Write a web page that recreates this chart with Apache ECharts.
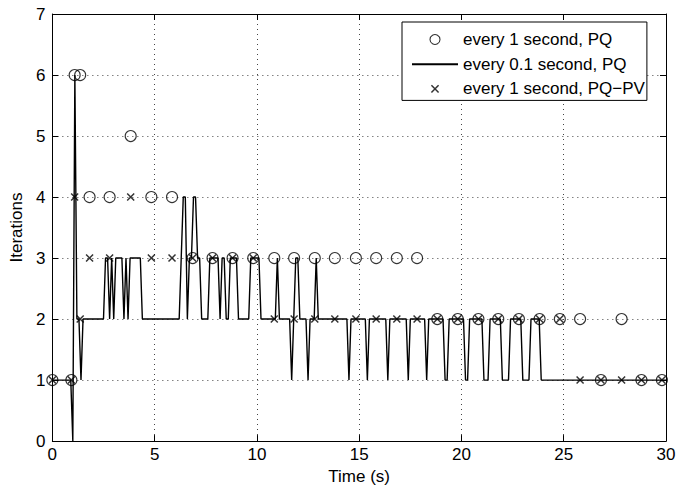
<!DOCTYPE html>
<html>
<head>
<meta charset="utf-8">
<script src="https://cdn.jsdelivr.net/npm/echarts@6/dist/echarts.min.js"></script>
<style>
html,body{margin:0;padding:0;background:#fff;}
#chart{width:690px;height:490px;}
</style>
</head>
<body>
<div id="chart"></div>
<script>
// ---- data ----
const xTicks = [0, 5, 10, 15, 20, 25, 30];
const yTicks = [0, 1, 2, 3, 4, 5, 6, 7];

// "every 0.1 second, PQ": one value per 0.1 s from t = 0 to t = 30
const lineStep = 0.1;
const lineValues = [
  1,1,1,1,1,1,1,1,1,1,   // 0.0 - 0.9
  0,6,2,2,1,2,2,2,2,2,   // 1.x
  2,2,2,2,2,2,3,3,2,3,   // 2.x
  2,3,3,3,3,2,3,2,3,3,   // 3.x
  3,3,3,3,2,2,2,2,2,2,   // 4.x
  2,2,2,2,2,2,2,2,2,2,   // 5.x
  2,2,2,3,4,4,2,3,3,4,   // 6.x
  4,3,3,2,2,2,2,3,3,3,   // 7.x
  3,3,2,3,3,2,2,3,3,3,   // 8.x
  3,2,2,2,2,2,2,3,3,3,   // 9.x
  3,3,2,2,2,2,2,2,2,2,   // 10.x
  3,2,2,2,2,2,2,1,2,3,   // 11.x
  3,2,2,2,2,1,2,2,2,3,   // 12.x
  2,2,2,2,2,2,2,2,2,2,   // 13.x
  2,2,2,2,2,1,2,2,2,2,   // 14.x
  2,2,2,2,1,2,2,2,2,2,   // 15.x
  2,2,2,2,1,2,2,2,2,2,   // 16.x
  2,2,2,2,1,2,2,2,2,2,   // 17.x
  2,2,2,1,2,2,2,2,2,2,   // 18.x
  2,2,1,1,2,2,2,2,2,2,   // 19.x
  2,2,1,1,2,2,2,2,2,2,   // 20.x
  2,1,1,1,2,2,2,2,2,2,   // 21.x
  1,1,1,1,2,2,2,2,2,2,   // 22.x
  1,1,1,1,2,2,2,2,2,1,   // 23.x
  1,1,1,1,1,1,1,1,1,1,   // 24.x
  1,1,1,1,1,1,1,1,1,1,   // 25.x
  1,1,1,1,1,1,1,1,1,1,   // 26.x
  1,1,1,1,1,1,1,1,1,1,   // 27.x
  1,1,1,1,1,1,1,1,1,1,   // 28.x
  1,1,1,1,1,1,1,1,1,1,   // 29.x
  1                      // 30.0
];

// "every 1 second" samples
const markerTimes = [0, 0.93, 1.09, 1.36, 1.82, 2.80, 3.83, 4.84, 5.85, 6.86, 7.83, 8.81, 9.82,
  10.85, 11.82, 12.83, 13.81, 14.84, 15.83, 16.84, 17.83, 18.82, 19.82, 20.83, 21.80, 22.81,
  23.82, 24.81, 25.80, 26.82, 27.83, 28.80, 29.80];
const pqValues = [1, 1, 6, 6, 4, 4, 5, 4, 4, 3, 3, 3, 3, 3, 3, 3, 3, 3, 3, 3, 3,
  2, 2, 2, 2, 2, 2, 2, 2, 1, 2, 1, 1];
const pqpvValues = [1, 1, 4, 2, 3, 3, 4, 3, 3, 3, 3, 3, 3, 2, 2, 2, 2, 2, 2, 2, 2,
  2, 2, 2, 2, 2, 2, 2, 1, 1, 1, 1, 1];

const seriesNames = ['every 1 second, PQ', 'every 0.1 second, PQ', 'every 1 second, PQ\u2212PV'];

// ---- build ----
const lineData = lineValues.map((v, i) => [Math.round(i * lineStep * 10) / 10, v]);
const pqData = markerTimes.map((t, i) => [t, pqValues[i]]);
const pqpvData = markerTimes.map((t, i) => [t, pqpvValues[i]]);

const FONT = "'Liberation Sans', Arial, Helvetica, sans-serif";
const FS = 17;
const crossPath = 'path://M0,0L10,10M10,0L0,10';
const crossPathLegend = 'path://M-2,-2L-2,-2M0,0L10,10M10,0L0,10M12,12L12,12';

const grid = {left: 52, right: 24, top: 14, bottom: 43, containLabel: false};
const dotted = {show: true, lineStyle: {color: '#444', width: 1, type: [1, 4]}};
const axisLineS = {show: true, onZero: false, lineStyle: {color: '#000', width: 1}};
const tickS = {show: true, inside: true, length: 6, lineStyle: {color: '#000', width: 1}};

const chart = echarts.init(document.getElementById('chart'), null, {renderer: 'svg'});
chart.setOption({
  animation: false,
  backgroundColor: '#fff',
  textStyle: {fontFamily: FONT},
  grid: grid,
  legend: {
    orient: 'vertical',
    left: 402,
    top: 22,
    padding: [9, 2, 3, 9],
    itemGap: 7.7,
    itemWidth: 46,
    itemHeight: 10,
    borderColor: '#000',
    borderWidth: 1,
    backgroundColor: '#fff',
    textStyle: {fontFamily: FONT, fontSize: FS, color: '#000', lineHeight: 14},
    data: [
      {name: seriesNames[0], icon: 'circle', itemStyle: {color: 'none', borderColor: '#000', borderWidth: 1.1}},
      {name: seriesNames[1], itemStyle: {color: 'none', borderColor: 'none', borderWidth: 0, opacity: 0}},
      {name: seriesNames[2], icon: crossPathLegend, itemStyle: {color: 'none', borderColor: '#000', borderWidth: 1.5}}
    ]
  },
  xAxis: [{
    type: 'value', min: xTicks[0], max: xTicks[xTicks.length - 1], interval: 5,
    position: 'bottom',
    name: 'Time (s)', nameLocation: 'middle', nameGap: 22,
    nameTextStyle: {fontFamily: FONT, fontSize: FS, color: '#000'},
    axisLine: axisLineS, axisTick: tickS,
    axisLabel: {fontFamily: FONT, fontSize: FS, color: '#000', margin: 5},
    splitLine: dotted
  }, {
    type: 'value', min: xTicks[0], max: xTicks[xTicks.length - 1], interval: 5,
    position: 'top',
    axisLine: axisLineS, axisTick: tickS, axisLabel: {show: false}, splitLine: {show: false}
  }],
  yAxis: [{
    type: 'value', min: yTicks[0], max: yTicks[yTicks.length - 1], interval: 1,
    position: 'left',
    name: 'Iterations', nameLocation: 'middle', nameGap: 27,
    nameTextStyle: {fontFamily: FONT, fontSize: FS, color: '#000'},
    axisLine: axisLineS, axisTick: tickS,
    axisLabel: {fontFamily: FONT, fontSize: FS, color: '#000', margin: 7},
    splitLine: dotted
  }, {
    type: 'value', min: yTicks[0], max: yTicks[yTicks.length - 1], interval: 1,
    position: 'right',
    axisLine: axisLineS, axisTick: tickS, axisLabel: {show: false}, splitLine: {show: false}
  }],
  series: [{
    name: seriesNames[1], type: 'line', data: lineData, symbol: 'none', showSymbol: false,
    lineStyle: {color: '#000', width: 1.4}, itemStyle: {color: '#000'}, z: 2
  }, {
    name: seriesNames[0], type: 'scatter', data: pqData, symbol: 'circle', symbolSize: 11,
    itemStyle: {color: 'none', borderColor: '#000', borderWidth: 1.1}, z: 3
  }, {
    name: seriesNames[2], type: 'scatter', data: pqpvData, symbol: crossPath, symbolSize: 7,
    itemStyle: {color: 'none', borderColor: '#000', borderWidth: 1.5}, z: 4
  }]
});
</script>
</body>
</html>
